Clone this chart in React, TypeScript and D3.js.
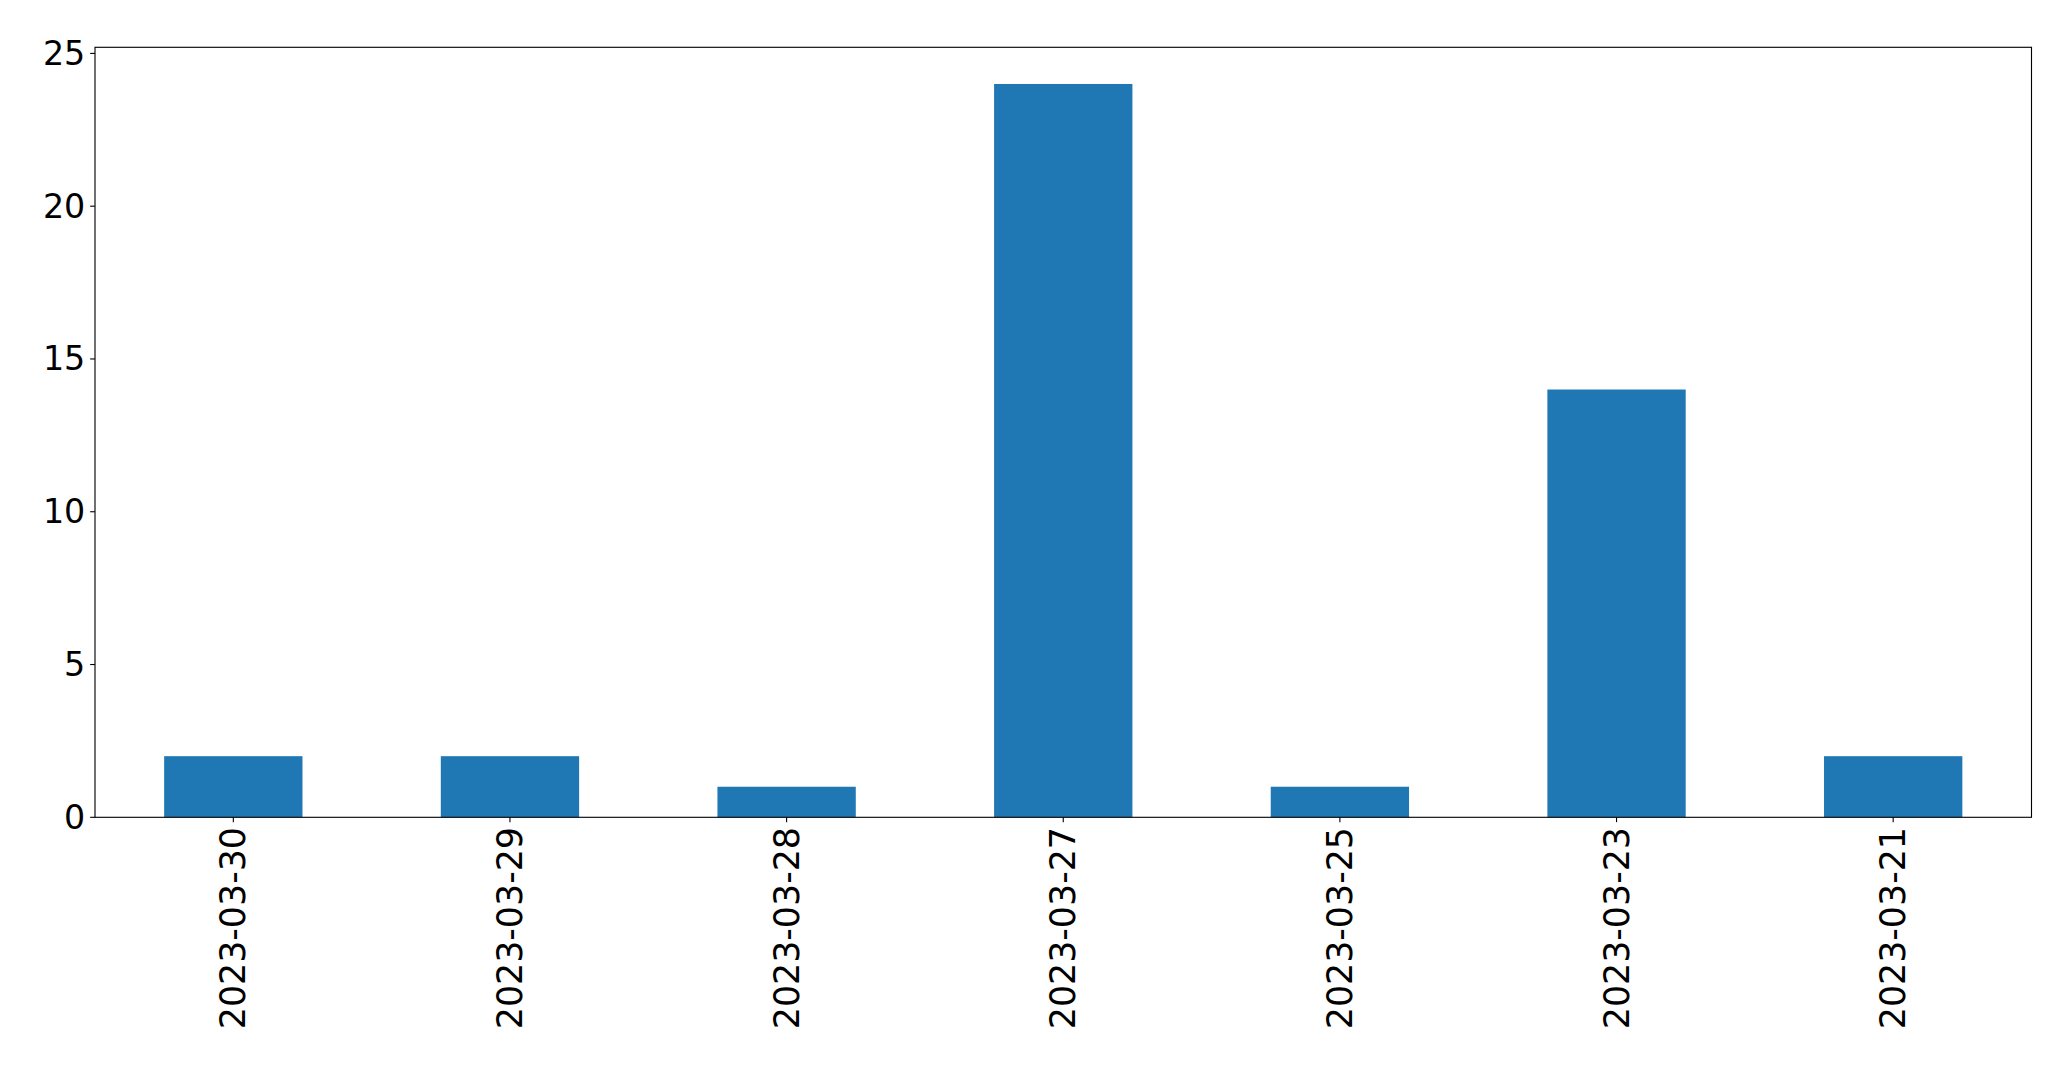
import React from "react";
import * as d3 from "d3";

const categories = ["2023-03-30", "2023-03-29", "2023-03-28", "2023-03-27", "2023-03-25", "2023-03-23", "2023-03-21"];
const values = [2, 2, 1, 24, 1, 14, 2];
const yTicks = [0, 5, 10, 15, 20, 25];

const W = 2071;
const H = 1069;
const M = { left: 95, right: 2031.5, top: 47.3, bottom: 817.3 };
const FONT = "DejaVu Sans, sans-serif";
const FS_Y = 33.3;
const FS_X = 34.8;
const TICK = 4.86;
const PAD = 4.86;

export default function App() {
  const x = d3
    .scaleBand<string>()
    .domain(categories)
    .range([M.left, M.right])
    .paddingInner(0.5)
    .paddingOuter(0.25);
  const yMax = d3.max(values)! * 1.05;
  const y = d3.scaleLinear().domain([0, yMax]).range([M.bottom, M.top]);

  return (
    <svg
      width={W}
      height={H}
      style={{ position: "absolute", left: 0, top: 0, background: "#fff" }}
      fontFamily={FONT}
    >
      <rect x={0} y={0} width={W} height={H} fill="#fff" />
      {categories.map((c, i) => (
        <rect
          key={c}
          x={x(c)}
          y={y(values[i])}
          width={x.bandwidth()}
          height={y(0) - y(values[i])}
          fill="#1f77b4"
        />
      ))}
      <rect
        x={M.left}
        y={M.top}
        width={M.right - M.left}
        height={M.bottom - M.top}
        fill="none"
        stroke="#000"
        strokeWidth={1.11}
      />
      {yTicks.map((t) => (
        <g key={t}>
          <line x1={M.left - TICK} x2={M.left} y1={y(t)} y2={y(t)} stroke="#000" strokeWidth={1.11} />
          <text
            x={M.left - TICK - PAD}
            y={y(t)}
            textAnchor="end"
            dominantBaseline="central"
            fontSize={FS_Y}
            fill="#000"
          >
            {t}
          </text>
        </g>
      ))}
      {categories.map((c) => {
        const cx = x(c)! + x.bandwidth() / 2;
        const ty = M.bottom + TICK + PAD;
        return (
          <g key={c}>
            <line x1={cx} x2={cx} y1={M.bottom} y2={M.bottom + TICK} stroke="#000" strokeWidth={1.11} />
            <text
              transform={`translate(${cx},${ty}) rotate(-90)`}
              textAnchor="end"
              dominantBaseline="central"
              fontSize={FS_X}
              fill="#000"
            >
              {c}
            </text>
          </g>
        );
      })}
    </svg>
  );
}
